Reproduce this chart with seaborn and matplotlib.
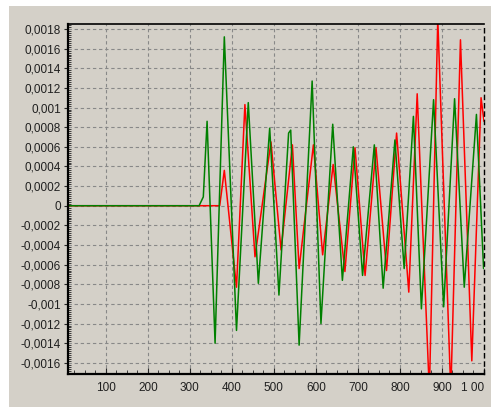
import matplotlib
matplotlib.use('Agg')
import matplotlib.pyplot as plt
import matplotlib.ticker as mticker
from matplotlib.patches import Rectangle
import seaborn as sns

# Green trace (x, value)
green_x = [10, 322, 332, 341, 360, 382, 411, 439, 463, 490, 512, 535, 540, 560, 591, 612,
           640, 663, 689, 711, 739, 760, 788, 810, 832, 851, 880, 904, 930, 953, 982, 999]
green_y = [0, 0, 0.00009, 0.00086, -0.00140, 0.00172, -0.00127, 0.00105, -0.00079, 0.00079,
           -0.00091, 0.00074, 0.00077, -0.00142, 0.00127, -0.00120, 0.00083, -0.00076, 0.00060,
           -0.00071, 0.00062, -0.00084, 0.00067, -0.00064, 0.00091, -0.00105, 0.00108, -0.00103,
           0.00109, -0.00083, 0.00093, -0.00064]

# Red trace
red_x = [10, 371, 382, 411, 431, 455, 493, 517, 544, 560, 594, 616, 641, 669, 693, 717,
         743, 768, 792, 821, 841, 870, 890, 921, 944, 971, 993, 1000]
red_y = [0, 0, 0.00036, -0.00083, 0.00103, -0.00052, 0.00065, -0.00045, 0.00062, -0.00064,
         0.00062, -0.00050, 0.00042, -0.00067, 0.00059, -0.00071, 0.00059, -0.00066, 0.00074,
         -0.00088, 0.00114, -0.0019, 0.0019, -0.0019, 0.00169, -0.00158, 0.00110, 0.00086]

bg = '#d4d0c8'

sns.set_style('white')
plt.rcParams['font.family'] = ['Liberation Sans', 'DejaVu Sans']

fig = plt.figure(figsize=(4.91, 4.07), dpi=100, facecolor='white')
fig.patches.append(Rectangle((9 / 491, 0), 1, 1 - 6 / 407, transform=fig.transFigure,
                             facecolor=bg, edgecolor='none', zorder=-10))
ax = fig.add_axes([68 / 491, 33 / 407, 416 / 491, 350 / 407])
ax.set_facecolor(bg)

sns.lineplot(x=red_x, y=red_y, color='#ff0000', linewidth=1.1, estimator=None, sort=False, ax=ax)
sns.lineplot(x=green_x, y=green_y, color='#008000', linewidth=1.1, estimator=None, sort=False, ax=ax)

ax.set_xlim(10, 1000)
ax.set_ylim(-0.001714, 0.001851)

ax.xaxis.set_major_locator(mticker.MultipleLocator(100))
ax.xaxis.set_minor_locator(mticker.MultipleLocator(25))
ax.yaxis.set_major_locator(mticker.MultipleLocator(0.0002))
ax.yaxis.set_minor_locator(mticker.MultipleLocator(0.00002))


def yfmt(v, pos):
    v = round(v, 4)
    if abs(v) < 1e-9:
        return '0'
    s = f'{v:.4f}'.rstrip('0')
    return s.replace('.', ',')


def xfmt(v, pos):
    v = int(round(v))
    return '1 00' if v == 1000 else str(v)


ax.yaxis.set_major_formatter(mticker.FuncFormatter(yfmt))
ax.xaxis.set_major_formatter(mticker.FuncFormatter(xfmt))

ax.tick_params(axis='y', which='major', direction='out', length=3, width=0.8, pad=2,
               labelsize=8.5, labelcolor='#202020', left=True)
ax.tick_params(axis='y', which='minor', direction='in', length=2, width=0.6, left=True)
ax.tick_params(axis='x', which='major', direction='in', length=4, width=0.8, pad=6,
               labelsize=8.5, labelcolor='#202020', bottom=True)
ax.tick_params(axis='x', which='minor', direction='in', length=3, width=0.6, bottom=True)

for lab in ax.get_xticklabels():
    if lab.get_text() == '1 00':
        lab.set_horizontalalignment('right')

ax.grid(True, which='major', color='#888888', linestyle=(0, (3, 2.5)), linewidth=0.8)
ax.set_axisbelow(True)

for side in ['left', 'bottom']:
    ax.spines[side].set_color('black')
    ax.spines[side].set_linewidth(1.6)
ax.spines['top'].set_color('black')
ax.spines['top'].set_linewidth(1.2)
ax.spines['right'].set_color('black')
ax.spines['right'].set_linewidth(1.0)
ax.spines['right'].set_linestyle((0, (3, 3)))

fig.savefig('out.png', dpi=100, facecolor=fig.get_facecolor())
